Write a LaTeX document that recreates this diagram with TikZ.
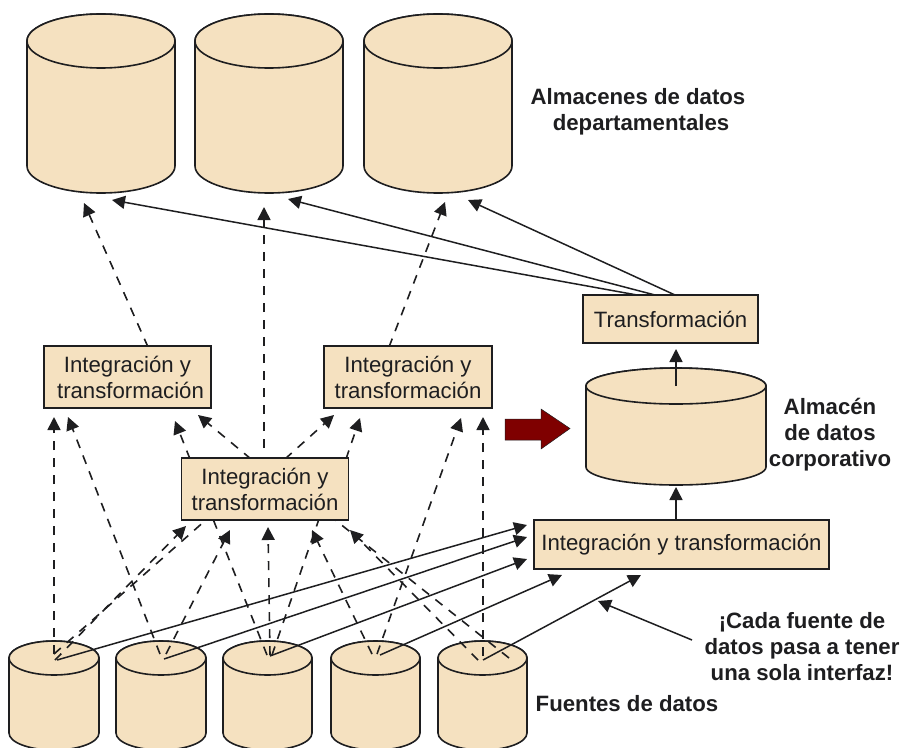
\documentclass[tikz,border=0pt]{standalone}
\usepackage{fontspec}
\setmainfont{Liberation Sans}
\usetikzlibrary{arrows.meta}
\definecolor{tan}{HTML}{F5E1C0}
\definecolor{ink}{HTML}{1E1E20}
\definecolor{maroon}{HTML}{7F0000}
\tikzset{
  x=1pt,y=-1pt,
  box/.style={draw=ink,fill=tan,line width=1.6pt,rectangle,inner sep=0pt,align=center,text=ink,font=\fontsize{22.2}{26}\selectfont},
  lbl/.style={align=center,text=ink,inner sep=0pt,font=\bfseries\fontsize{22.2}{26}\selectfont},
  cyl/.style={draw=ink,fill=tan,line width=1.6pt,line join=round},
  sol/.style={draw=ink,line width=1.5pt,-{Triangle[length=13pt,width=13pt]}},
  das/.style={draw=ink,line width=1.6pt,dash pattern=on 9pt off 8pt,-{Triangle[length=13pt,width=13pt]}},
}
% #1 left, #2 right, #3 top of lid, #4 half height of lid, #5 where the sides end
\newcommand{\drumshape}[5]{%
  \pgfmathsetmacro{\drumrx}{(#2-#1)/2}
  \pgfmathsetmacro{\drumcx}{(#2+#1)/2}
  \pgfmathsetmacro{\drumcy}{#3+#4}
  \path[cyl] (#1,\drumcy) -- (#1,#5) arc[start angle=180,end angle=360,x radius=\drumrx pt,y radius=#4 pt]
     -- (#2,\drumcy) arc[start angle=0,end angle=180,x radius=\drumrx pt,y radius=#4 pt] -- cycle;
  \draw[cyl] (\drumcx,\drumcy) ellipse[x radius=\drumrx pt,y radius=#4 pt];
}
\begin{document}
\begin{tikzpicture}
\useasboundingbox (0,0) rectangle (904,747);
\begin{scope}
\clip (0,0) rectangle (904,747);
\drumshape{27}{175}{14}{27}{166}
\drumshape{195}{343}{14}{27}{166}
\drumshape{364}{512}{14}{27}{166}
\drumshape{9}{99}{641}{17}{733}
\drumshape{116}{206}{641}{17}{733}
\drumshape{223}{312}{641}{17}{733}
\drumshape{331}{420}{641}{17}{733}
\drumshape{438}{527}{641}{17}{733}
\drumshape{586}{766}{368}{18}{467}
\end{scope}
% free ends
\coordinate (s1a) at (54,654); \coordinate (s1b) at (55,660); \coordinate (s1c) at (57,660);
\coordinate (s2a) at (160,654); \coordinate (s2b) at (166,654); \coordinate (s2c) at (164,659);
\coordinate (s3a) at (267,655); \coordinate (s3b) at (270,655); \coordinate (s3c) at (270,656); \coordinate (s3d) at (272,655);
\coordinate (s4a) at (372,654); \coordinate (s4b) at (377,654); \coordinate (s4c) at (380,655);
\coordinate (s5a) at (483,656); \coordinate (s5b) at (478,660); \coordinate (s5c) at (509,658); \coordinate (s5d) at (483,660);
\coordinate (t1a) at (84,203); \coordinate (t1b) at (112,200);
\coordinate (t2a) at (264,207); \coordinate (t2b) at (288,199);
\coordinate (t3a) at (445,202); \coordinate (t3b) at (468,200);
\coordinate (la) at (54,417); \coordinate (lb) at (68,417); \coordinate (lc) at (175,421); \coordinate (ld) at (198,415);
\coordinate (ma) at (334,415); \coordinate (mb) at (360,418); \coordinate (mc) at (461,418); \coordinate (md) at (483,417);
\coordinate (ca) at (186,526); \coordinate (cb) at (230,530); \coordinate (cc) at (268,527); \coordinate (cd) at (312,530); \coordinate (ce) at (350,530);
\coordinate (ch1) at (207,519); \coordinate (ch2) at (213,519); \coordinate (ch3) at (319,519); \coordinate (ch4) at (334,519);
\coordinate (cbt) at (264,448);
\coordinate (ra) at (527,525); \coordinate (rb) at (527,537); \coordinate (rc) at (527,559); \coordinate (rd) at (562,575); \coordinate (re) at (641,575);
\coordinate (dlid) at (676,386); \coordinate (dtop) at (676,349); \coordinate (dbot) at (676,487);
\coordinate (tr1) at (637,295); \coordinate (tr2) at (655,295); \coordinate (tr3) at (675,295);
\coordinate (tl1) at (148,347); \coordinate (tl2) at (389,347);
\coordinate (cs1) at (190,459); \coordinate (cs2) at (251,459); \coordinate (cs3) at (285,459); \coordinate (cs4) at (346,459);
\coordinate (rbt) at (676,521);
\coordinate (noteS) at (692,640); \coordinate (noteT) at (598,601);
% dashed connectors
\draw[das] (tl1) -- (t1a);
\draw[das] (cbt) -- (t2a);
\draw[das] (tl2) -- (t3a);
\draw[das] (s1a) -- (la);
\draw[das] (s2a) -- (lb);
\draw[das] (cs1) -- (lc);
\draw[das] (cs2) -- (ld);
\draw[das] (cs3) -- (ma);
\draw[das] (cs4) -- (mb);
\draw[das] (s4b) -- (mc);
\draw[das] (s5a) -- (md);
\draw[das] (s1b) -- (ca);
\draw[das,-] (s1a) -- (ch1);
\draw[das] (s2b) -- (cb);
\draw[das,-] (s3a) -- (ch2);
\draw[das] (s3b) -- (cc);
\draw[das,-] (s3d) -- (ch3);
\draw[das] (s4a) -- (cd);
\draw[das] (s5b) -- (ce);
\draw[das,-] (s5c) -- (ch4);
% solid connectors
\draw[sol] (s1c) -- (ra);
\draw[sol] (s2c) -- (rb);
\draw[sol] (s3c) -- (rc);
\draw[sol] (s4c) -- (rd);
\draw[sol] (s5d) -- (re);
\draw[sol] (tr1) -- (t1b);
\draw[sol] (tr2) -- (t2b);
\draw[sol] (tr3) -- (t3b);
\draw[sol] (dlid) -- (dtop);
\draw[sol] (rbt) -- (dbot);
\draw[sol] (noteS) -- (noteT);
% boxes
\node[box,minimum width=167pt,minimum height=62pt] (b1) at (127.5,377) {Integración y\\\hspace*{6pt}transformación};
\node[box,minimum width=168pt,minimum height=62pt] (b2) at (408,377) {Integración y\\transformación};
\node[box,minimum width=167pt,minimum height=62pt] (b3) at (265,489) {Integración y\\transformación};
\node[box,minimum width=175pt,minimum height=48pt] (b4) at (670.5,319) {Transformación};
\node[box,minimum width=295pt,minimum height=49pt] (b5) at (681.5,544.5) {\raisebox{-1.5pt}{Integración y transformación}};
% big arrow
\draw[draw=ink,line width=0.5pt,fill=maroon] (505,419) -- (541,419) -- (541,409) -- (570,428.5) -- (541,449) -- (541,440) -- (505,440) -- cycle;
% labels
\node[lbl] (l1) at (638,111.5) {Almacenes de datos\\\hspace*{6pt}departamentales};
\node[lbl] (l2) at (830,435) {Almacén\\de datos\\corporativo};
\node[lbl] (l3) at (802,647) {¡Cada fuente de\\datos pasa a tener\\una sola interfaz!};
\node[lbl] (l4) at (627,704) {Fuentes de datos};
\end{tikzpicture}
\end{document}
